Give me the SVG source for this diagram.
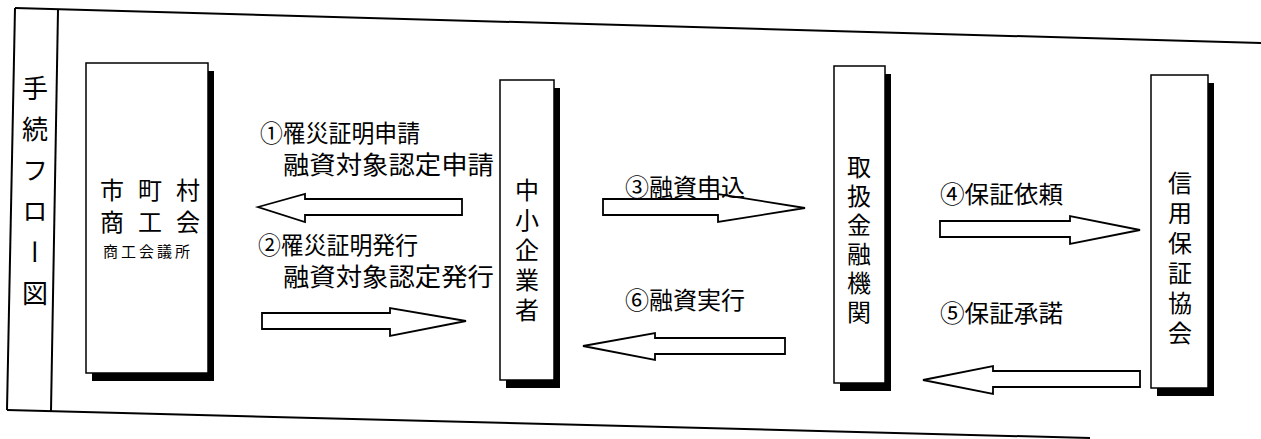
<svg xmlns="http://www.w3.org/2000/svg" width="1261" height="439" viewBox="0 0 1261 439">
<style>
.ln{stroke:#000;stroke-width:2;fill:none}
.box{fill:#fff;stroke:#000;stroke-width:1.5}
.sh{fill:#000}
.arr{fill:#fff;stroke:#000;stroke-width:1.8;stroke-linejoin:miter}
.t{font-family:"Noto Sans CJK JP","Noto Sans CJK SC",sans-serif;fill:#000}
.v{writing-mode:vertical-rl;text-anchor:start}
</style>
<rect width="1261" height="439" fill="#fff"/>
<g id="frame">
<line class="ln" x1="15" y1="8" x2="1261" y2="43"/>
<line class="ln" x1="15" y1="8" x2="7" y2="410"/>
<line class="ln" x1="58" y1="10" x2="51" y2="411"/>
<line class="ln" x1="7" y1="410" x2="1090" y2="438"/>
<text class="t v" x="35" y="75" font-size="26" letter-spacing="15">手続フロー図</text>
</g>
<g id="node-shichoson">
<rect class="sh" x="92" y="71" width="122" height="310"/>
<rect class="box" x="86" y="63" width="122" height="310"/>
<text class="t" x="112" y="199" font-size="24" text-anchor="middle">市</text>
<text class="t" x="150" y="199" font-size="24" text-anchor="middle">町</text>
<text class="t" x="188" y="199" font-size="24" text-anchor="middle">村</text>
<text class="t" x="112" y="231" font-size="24" text-anchor="middle">商</text>
<text class="t" x="150" y="231" font-size="24" text-anchor="middle">工</text>
<text class="t" x="188" y="231" font-size="24" text-anchor="middle">会</text>
<text class="t" x="148" y="257" font-size="15" text-anchor="middle" letter-spacing="3">商工会議所</text>
</g>
<g id="node-chusho">
<rect class="sh" x="506" y="88" width="54" height="300"/>
<rect class="box" x="500" y="80" width="54" height="300"/>
<text class="t v" x="527" y="178" font-size="24" letter-spacing="6">中小企業者</text>
</g>
<g id="node-kinyu">
<rect class="sh" x="840" y="74" width="51" height="317"/>
<rect class="box" x="834" y="66" width="51" height="317"/>
<text class="t v" x="859" y="155" font-size="24" letter-spacing="5">取扱金融機関</text>
</g>
<g id="node-shinyo">
<rect class="sh" x="1157" y="83" width="57" height="313"/>
<rect class="box" x="1151" y="75" width="57" height="313"/>
<text class="t v" x="1180" y="171" font-size="24" letter-spacing="6">信用保証協会</text>
</g>
<g id="connectors">
<polygon class="arr" points="258,207 305,194 305,199 462,199 462,215 305,215 305,222"/>
<polygon class="arr" points="466,321 390,308 390,313 262,313 262,329 390,329 390,336"/>
<polygon class="arr" points="805,208 718,194 718,199 603,199 603,215 718,215 718,222"/>
<polygon class="arr" points="583,346 655,333 655,338 785,338 785,354 655,354 655,360"/>
<polygon class="arr" points="1140,230 1070,216 1070,221 940,221 940,237 1070,237 1070,244"/>
<polygon class="arr" points="923,380 993,366 993,371 1140,371 1140,387 993,387 993,394"/>
</g>
<g id="labels">
<text class="t" x="260" y="142" font-size="24" textLength="160" lengthAdjust="spacingAndGlyphs">①罹災証明申請</text>
<text class="t" x="283" y="174" font-size="25" textLength="211" lengthAdjust="spacingAndGlyphs">融資対象認定申請</text>
<text class="t" x="258" y="254" font-size="24" textLength="160" lengthAdjust="spacingAndGlyphs">②罹災証明発行</text>
<text class="t" x="283" y="286" font-size="25" textLength="211" lengthAdjust="spacingAndGlyphs">融資対象認定発行</text>
<text class="t" x="625" y="196" font-size="24" textLength="120" lengthAdjust="spacingAndGlyphs">③融資申込</text>
<text class="t" x="625" y="309" font-size="24" textLength="120" lengthAdjust="spacingAndGlyphs">⑥融資実行</text>
<text class="t" x="940" y="203" font-size="24" textLength="123" lengthAdjust="spacingAndGlyphs">④保証依頼</text>
<text class="t" x="940" y="322" font-size="24" textLength="123" lengthAdjust="spacingAndGlyphs">⑤保証承諾</text>
</g>
</svg>
